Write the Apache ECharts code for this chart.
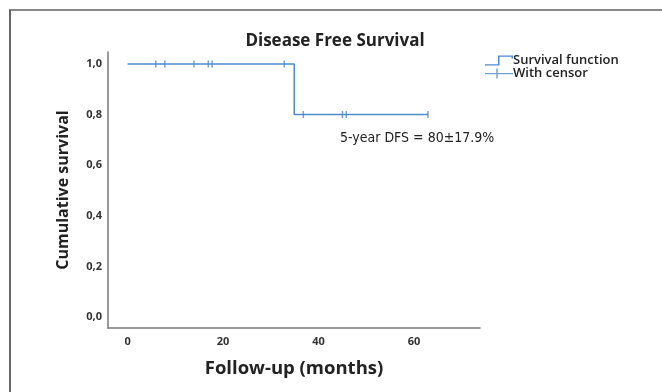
<!DOCTYPE html>
<html>
<head>
<meta charset="utf-8">
<script src="https://cdn.jsdelivr.net/npm/echarts@6/dist/echarts.min.js"></script>
<style>
html,body{margin:0;padding:0;background:#fff;}
#c{width:662px;height:392px;}
</style>
</head>
<body>
<div id="c"></div>
<script>
// Data
const survivalSteps = [[0, 1.0], [34.9, 1.0], [34.9, 0.8], [62.9, 0.8]];
const censorTimes = [5.9, 7.8, 13.9, 16.9, 17.7, 32.8, 36.8, 45.0, 45.8, 62.9];
const censorSurvival = [1.0, 1.0, 1.0, 1.0, 1.0, 1.0, 0.8, 0.8, 0.8, 0.8];
const xTicks = [0, 20, 40, 60];
const yTicks = [0, 0.2, 0.4, 0.6, 0.8, 1.0];
const titleText = 'Disease Free Survival';
const annotationText = '5-year DFS = 80±17.9%';

const censorPoints = censorTimes.map((t, i) => [t, censorSurvival[i]]);
const blue = '#4f8bcd';
const stepIcon = 'path://M0,10.5L14.5,10.5L14.5,12L0,12Z M13,0L14.5,0L14.5,12L13,12Z M13,0L28,0L28,1.5L13,1.5Z M26.5,0L28,0L28,3.5L26.5,3.5Z';
const crossIcon = 'path://M0,5.25L28,5.25L28,6.75L0,6.75Z M11.25,0L12.75,0L12.75,12L11.25,12Z';

const chart = echarts.init(document.getElementById('c'), null, {renderer: 'canvas'});
chart.setOption({
  animation: false,
  backgroundColor: '#fff',
  title: {
    text: titleText,
    left: 330, top: 28, textAlign: 'center',
    textStyle: {fontFamily: 'Open Sans', fontWeight: 'bold', fontSize: 17, color: '#222'}
  },
  legend: {
    orient: 'vertical',
    left: 480, top: 49,
    itemWidth: 28, itemHeight: 10, itemGap: 0,
    symbolKeepAspect: false,
    itemStyle: {borderWidth: 0},
    lineStyle: {width: 0},
    textStyle: {fontFamily: 'Open Sans', fontWeight: 600, fontSize: 13, color: '#222', padding: [0, 0, 0, -5]},
    data: [
      {name: 'Survival function', icon: stepIcon, itemStyle: {borderWidth: 0}},
      {name: 'With censor', icon: crossIcon, itemStyle: {borderWidth: 0}}
    ]
  },
  grid: {left: 108, top: 52, width: 372, height: 276},
  xAxis: {
    type: 'value', min: -4.1, max: 73.8,
    name: 'Follow-up (months)', nameLocation: 'middle', nameGap: 31,
    nameTextStyle: {fontFamily: 'Open Sans', fontWeight: 'bold', fontSize: 18.5, color: '#222'},
    axisLine: {show: true, onZero: false, lineStyle: {color: '#777', width: 1.5}},
    axisTick: {show: false},
    splitLine: {show: false},
    axisLabel: {customValues: xTicks, fontFamily: 'Open Sans', fontWeight: 'bold', fontSize: 11, color: '#333', margin: 8}
  },
  yAxis: {
    type: 'value', min: -0.043, max: 1.047,
    name: 'Cumulative survival', nameLocation: 'middle', nameGap: 37, nameRotate: 90,
    nameTextStyle: {fontFamily: 'Open Sans', fontWeight: 'bold', fontSize: 16, color: '#222'},
    axisLine: {show: true, onZero: false, lineStyle: {color: '#777', width: 1.5}},
    axisTick: {show: false},
    splitLine: {show: false},
    axisLabel: {customValues: yTicks, fontFamily: 'Open Sans', fontWeight: 'bold', fontSize: 11, color: '#333', margin: 6,
      formatter: v => v.toFixed(1).replace('.', ',')}
  },
  graphic: [
    {type: 'line', shape: {x1: 9, y1: 10, x2: 662, y2: 10}, style: {stroke: '#888', lineWidth: 2}},
    {type: 'line', shape: {x1: 10, y1: 10, x2: 10, y2: 392}, style: {stroke: '#666', lineWidth: 2}},
    {type: 'text', left: 340, top: 131, style: {text: annotationText, fontFamily: '"Liberation Sans Narrow", "DejaVu Sans Condensed", sans-serif', fontSize: 14, fill: '#222'}}
  ],
  series: [
    {
      name: 'Survival function', type: 'line', data: survivalSteps,
      showSymbol: false, symbol: 'none',
      lineStyle: {color: blue, width: 1.5}, itemStyle: {color: blue}
    },
    {
      name: 'With censor', type: 'scatter', data: censorPoints,
      symbol: 'rect', symbolSize: [1.5, 7],
      itemStyle: {color: blue}
    }
  ]
});
</script>
</body>
</html>
